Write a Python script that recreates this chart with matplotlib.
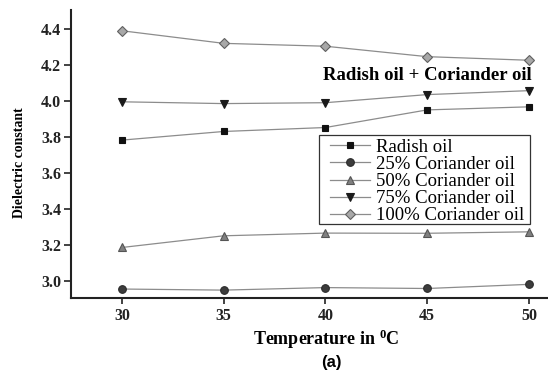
import matplotlib
matplotlib.use("Agg")
import matplotlib.pyplot as plt
from matplotlib.patches import Rectangle

temps = [30, 35, 40, 45, 50]
radish = [3.782, 3.830, 3.852, 3.950, 3.967]
cor25 = [2.954, 2.948, 2.962, 2.957, 2.980]
cor50 = [3.185, 3.250, 3.265, 3.264, 3.272]
cor75 = [3.995, 3.985, 3.990, 4.035, 4.057]
cor100 = [4.390, 4.320, 4.304, 4.246, 4.226]
labels = ["Radish oil", "25% Coriander oil", "50% Coriander oil",
          "75% Coriander oil", "100% Coriander oil"]
yticks = [3.0, 3.2, 3.4, 3.6, 3.8, 4.0, 4.2, 4.4]

serif = ["Liberation Serif", "DejaVu Serif"]
plt.rcParams["mathtext.fontset"] = "custom"
plt.rcParams["mathtext.rm"] = "Liberation Serif"
plt.rcParams["mathtext.bf"] = "Liberation Serif:bold"

fig = plt.figure(figsize=(5.48, 3.73), dpi=100)
ax = fig.add_axes([0.1296, 0.201, 0.869, 0.772])

line_c = "#8c8c8c"
styles = [
    dict(marker="s", ms=5, mfc="#111111", mec="#111111"),
    dict(marker="o", ms=5.5, mfc="#3c3c3c", mec="#2a2a2a"),
    dict(marker="^", ms=6, mfc="#808080", mec="#555555"),
    dict(marker="v", ms=6, mfc="#1a1a1a", mec="#1a1a1a"),
    dict(marker="D", ms=4.8, mfc="#a8a8a8", mec="#606060"),
]
for series, lab, st in zip([radish, cor25, cor50, cor75, cor100], labels, styles):
    ax.plot(temps, series, color=line_c, lw=0.9, label=lab, mew=0.8, **st)

ax.set_xlim(27.5, 50.9)
ax.set_ylim(2.904, 4.505)
ax.set_xticks(temps)
ax.set_yticks(yticks)
ax.set_yticklabels([f"{v:.1f}" for v in yticks])
for s in ["top", "right"]:
    ax.spines[s].set_visible(False)
for s in ["left", "bottom"]:
    ax.spines[s].set_linewidth(1.5)
    ax.spines[s].set_color("#222222")
ax.tick_params(axis="y", direction="out", length=5, width=1.2, pad=2, colors="#222222")
ax.tick_params(axis="x", direction="out", length=4, width=1.2, pad=3, colors="#222222")
for t in ax.get_xticklabels() + ax.get_yticklabels():
    t.set_fontfamily(serif)
    t.set_fontweight("bold")
    t.set_fontsize(11.5)
    t.set_color("#222222")

ax.set_ylabel("Dielectric constant", fontfamily=serif, fontweight="bold",
              fontsize=10)
ax.yaxis.set_label_coords(-0.094, 0.47)
ax.set_xlabel(r"Temperature in $\mathbf{^{0}}$C", fontfamily=serif, fontweight="bold",
              fontsize=13)
ax.xaxis.set_label_coords((326 - 71) / 476, -0.104)

ax.text(0.968, 0.774, "Radish oil + Coriander oil", transform=ax.transAxes,
        ha="right", va="center", fontfamily=serif, fontweight="bold", fontsize=13.5)

# legend frame (drawn separately to get wide side padding)
ax.add_patch(Rectangle((0.521, 0.257), 0.443, 0.309, transform=ax.transAxes,
                       facecolor="white", edgecolor="#333333", lw=0.9, zorder=4))
leg = ax.legend(loc="upper left", bbox_to_anchor=(0.544, 0.553), frameon=False,
                prop={"family": serif, "size": 13.5}, handlelength=2.13,
                handletextpad=0.32, labelspacing=0.0, borderpad=0.0,
                borderaxespad=0)
leg.set_zorder(5)

fig.text(0.604, 0.027, "(a)", fontfamily=["Liberation Sans", "DejaVu Sans"],
         fontweight="bold", fontsize=12, ha="center", va="center")

fig.savefig("out.png", dpi=100)
